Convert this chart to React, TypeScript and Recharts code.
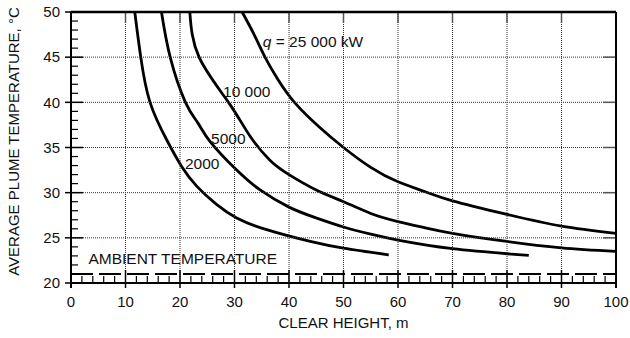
import { Line, LineChart, ReferenceDot, ReferenceLine, XAxis, YAxis } from 'recharts'

const FONT = '"Liberation Sans", Arial, Helvetica, sans-serif'

// clear height (m) and average plume temperature (°C)
const height2000 = [11.7, 12.8, 14.5, 17.6, 20.3, 23.1, 26.7, 30.4, 35.9, 43.9, 50, 58.3]
const temp2000 = [50, 45, 40, 35.8, 32.9, 30.7, 28.7, 27.2, 25.9, 24.6, 23.85, 23.1]

const height5000 = [16.6, 18.2, 21.0, 23.3, 25.6, 30.4, 34.7, 40, 45, 50, 55, 60, 70, 84]
const temp5000 = [50, 45, 40, 37.7, 35.6, 32.5, 30.3, 28.4, 27.2, 26.2, 25.4, 24.75, 23.8, 23.05]

const height10000 = [21.8, 23.5, 28.9, 32.8, 36.5, 40, 45, 50, 55, 60, 65, 70, 80, 90, 100]
const temp10000 = [50, 45, 40, 36.3, 33.6, 32.0, 30.3, 29.0, 27.7, 26.8, 26.1, 25.5, 24.6, 23.9, 23.5]

const height25000 = [31.4, 33.6, 35.6, 38, 41, 45.5, 50, 55, 60, 65, 70, 80, 90, 100]
const temp25000 = [50, 47.5, 45, 42.5, 40, 37.3, 35, 32.8, 31.2, 30.1, 29.1, 27.6, 26.3, 25.5]

const ambientTemp = 21

const xTicks = [0, 2, 4, 6, 8, 10, 12, 14, 16, 18, 20, 22, 24, 26, 28, 30, 32, 34, 36, 38, 40, 42, 44, 46, 48, 50, 52, 54, 56, 58, 60, 62, 64, 66, 68, 70, 72, 74, 76, 78, 80, 82, 84, 86, 88, 90, 92, 94, 96, 98, 100]
const xLabels = [0, 10, 20, 30, 40, 50, 60, 70, 80, 90, 100]
const yTicks = [20, 21, 22, 23, 24, 25, 26, 27, 28, 29, 30, 31, 32, 33, 34, 35, 36, 37, 38, 39, 40, 41, 42, 43, 44, 45, 46, 47, 48, 49, 50]
const yLabels = [20, 25, 30, 35, 40, 45, 50]

const toPoints = (xs: number[], ys: number[]) => xs.map((h, i) => ({ height: h, temp: ys[i] }))

const curves = [
  { key: 'q2000', points: toPoints(height2000, temp2000) },
  { key: 'q5000', points: toPoints(height5000, temp5000) },
  { key: 'q10000', points: toPoints(height10000, temp10000) },
  { key: 'q25000', points: toPoints(height25000, temp25000) },
]

const textStyle = { fontFamily: FONT, fontSize: 15, fill: '#111' }
const noteStyle = { ...textStyle, fontSize: 15.5 }

const renderBottomTick = (props: any) => (
  <text x={props.x} y={props.y + 23.5} textAnchor="middle" style={textStyle}>
    {props.payload.value}
  </text>
)

const renderLeftTick = (props: any) => (
  <text x={props.x - 11} y={props.y + 5.3} textAnchor="end" style={textStyle}>
    {props.payload.value}
  </text>
)

// vertical marks: grid line + ticks on bottom and top edges
const xMark = (v: number) => (p: any) => {
  const top = Math.min(p.y1, p.y2)
  const bottom = Math.max(p.y1, p.y2)
  const x = p.x1
  if (v === 0 || v === 100) return <line x1={x} x2={x} y1={bottom} y2={bottom + 5} stroke="#000" strokeWidth={2} />
  if (v % 10 !== 0) return <line x1={x} x2={x} y1={bottom - 7} y2={bottom} stroke="#000" strokeWidth={1.2} />
  return (
    <g>
      <line x1={x} x2={x} y1={top} y2={bottom} stroke="#333" strokeDasharray="1 1" strokeWidth={1} />
      <line x1={x} x2={x} y1={bottom - 13} y2={bottom + 5} stroke="#000" strokeWidth={1.5} />
      <line x1={x} x2={x} y1={top} y2={top + 11} stroke="#555" strokeWidth={1.5} />
    </g>
  )
}

// horizontal marks: grid line + ticks on left and right edges
const yMark = (v: number) => (p: any) => {
  const left = Math.min(p.x1, p.x2)
  const right = Math.max(p.x1, p.x2)
  const y = p.y1
  if (v === 20 || v === 50) return <line x1={left - 6} x2={left} y1={y} y2={y} stroke="#000" strokeWidth={1.5} />
  if (v % 5 !== 0) return <line x1={left} x2={left + 7} y1={y} y2={y} stroke="#000" strokeWidth={1.2} />
  return (
    <g>
      <line x1={left} x2={right} y1={y} y2={y} stroke="#333" strokeDasharray="1 1" strokeWidth={1} />
      <line x1={left - 6} x2={left + 12} y1={y} y2={y} stroke="#000" strokeWidth={1.5} />
      <line x1={right - 13} x2={right} y1={y} y2={y} stroke="#555" strokeWidth={1.5} />
    </g>
  )
}

const note = (text: string, italic?: string) => (props: any) => (
  <text x={props.cx} y={props.cy} style={noteStyle}>
    {italic && <tspan fontStyle="italic">{italic}</tspan>}
    {text}
  </text>
)

export default function App() {
  return (
    <div style={{ position: 'absolute', left: 0, top: 0, background: '#fff' }}>
      <LineChart width={630} height={338} margin={{ top: 12, right: 14, bottom: 0, left: 0 }}>
        <XAxis
          dataKey="height"
          type="number"
          domain={[0, 100]}
          ticks={xLabels}
          interval={0}
          height={55}
          tickSize={0}
          tickMargin={0}
          tickLine={false}
          tick={renderBottomTick}
          axisLine={{ stroke: '#000', strokeWidth: 2 }}
          label={{
            content: (p: any) => (
              <text x={p.viewBox.x + p.viewBox.width / 2} y={p.viewBox.y + 45} textAnchor="middle" style={textStyle}>
                CLEAR HEIGHT, m
              </text>
            ),
          }}
        />
        <YAxis
          type="number"
          domain={[20, 50]}
          ticks={yLabels}
          interval={0}
          width={71}
          tickSize={0}
          tickMargin={0}
          tickLine={false}
          tick={renderLeftTick}
          axisLine={{ stroke: '#000', strokeWidth: 2 }}
          label={{
            content: (p: any) => (
              <text
                transform={`translate(${p.viewBox.x + 19},${p.viewBox.y + p.viewBox.height / 2 - 6}) rotate(-90)`}
                textAnchor="middle"
                style={textStyle}
              >
                AVERAGE PLUME TEMPERATURE, °C
              </text>
            ),
          }}
        />

        {curves.map(c => (
          <Line
            key={c.key}
            data={c.points}
            dataKey="temp"
            type="natural"
            stroke="#000"
            strokeWidth={2.8}
            dot={false}
            isAnimationActive={false}
          />
        ))}

        {xTicks.map(v => (
          <ReferenceLine key={`mx${v}`} x={v} shape={xMark(v)} />
        ))}
        {yTicks.map(v => (
          <ReferenceLine key={`my${v}`} y={v} shape={yMark(v)} />
        ))}
        <ReferenceLine y={50} stroke="#000" strokeWidth={2.5} />
        <ReferenceLine x={100} stroke="#000" strokeWidth={2} />
        <ReferenceLine y={ambientTemp} stroke="#000" strokeWidth={2} strokeDasharray="22 6" />

        <ReferenceDot x={35.2} y={46.1} r={0} shape={note(' = 25 000 kW', 'q')} />
        <ReferenceDot x={27.9} y={40.6} r={0} shape={note('10 000')} />
        <ReferenceDot x={25.7} y={35.4} r={0} shape={note('5000')} />
        <ReferenceDot x={20.9} y={32.6} r={0} shape={note('2000')} />
        <ReferenceDot x={3.2} y={22.1} r={0} shape={note('AMBIENT TEMPERATURE')} />
      </LineChart>
    </div>
  )
}
